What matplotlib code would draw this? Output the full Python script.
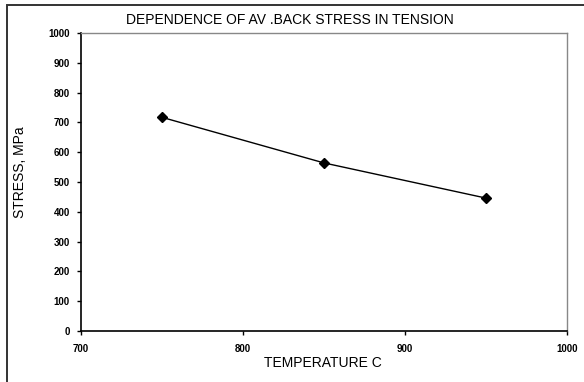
import matplotlib
matplotlib.use('Agg')
import matplotlib.pyplot as plt
from matplotlib.patches import Rectangle

# data
temperature = [750, 850, 950]
stress = [717, 564, 446]
xticks = [700, 800, 900, 1000]
yticks = list(range(0, 1001, 100))

plt.rcParams['font.family'] = ['Liberation Sans', 'DejaVu Sans']

fig = plt.figure(figsize=(5.84, 3.82), dpi=100)
W, H = 584.0, 382.0

# outer frame, cut off on the right and bottom like the scan
fig.patches.append(Rectangle((7 / W, -0.05), 1.2, 1 - 5 / H + 0.05,
                             transform=fig.transFigure, fill=False,
                             edgecolor='#333333', linewidth=1.4))

ax = fig.add_axes([81 / W, 51 / H, (567 - 81) / W, (331 - 33) / H])
ax.plot(temperature, stress, color='black', linewidth=1.0,
        marker='D', markersize=5, markerfacecolor='black')

ax.set_xlim(700, 1000)
ax.set_ylim(0, 1000)
ax.set_xticks(xticks)
ax.set_yticks(yticks)
ax.tick_params(direction='out', length=3, width=1, labelsize=7)
ax.tick_params(axis='x', pad=6)
ax.tick_params(axis='y', pad=5)
for lab in ax.get_xticklabels() + ax.get_yticklabels():
    lab.set_fontweight('bold')

ax.spines['left'].set_linewidth(1.2)
ax.spines['bottom'].set_linewidth(1.2)
ax.spines['top'].set_color('#888888')
ax.spines['right'].set_color('#888888')
ax.spines['top'].set_linewidth(1.0)
ax.spines['right'].set_linewidth(1.0)

fig.text(290 / W, 1 - 20 / H, 'DEPENDENCE OF AV .BACK STRESS IN TENSION',
         ha='center', va='center', fontsize=10)
fig.text(323 / W, 1 - 363 / H, 'TEMPERATURE C', ha='center', va='center',
         fontsize=10)
fig.text(20 / W, 1 - 172 / H, 'STRESS, MPa', ha='center', va='center',
         rotation=90, fontsize=10)

fig.savefig('out.png', dpi=100)
